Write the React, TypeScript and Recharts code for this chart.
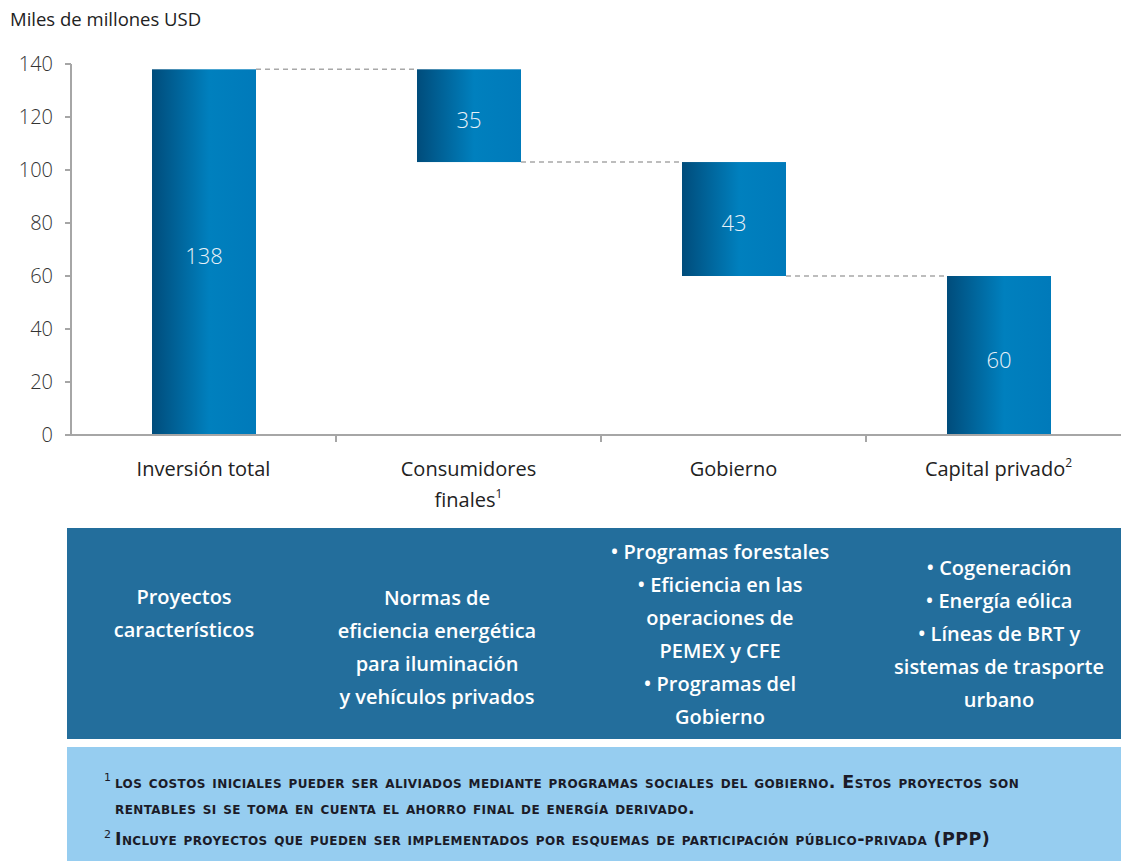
import React from "react";
import { BarChart, Bar, XAxis, YAxis, LabelList } from "recharts";

const categories = ["Inversión total", "Consumidores finales", "Gobierno", "Capital privado"];
const baseValues = [0, 103, 60, 0];
const barValues = [138, 35, 43, 60];
const categoryLines = [["Inversión total"], ["Consumidores", "finales"], ["Gobierno"], ["Capital privado"]];
const categoryNotes = ["", "1", "", "2"];
const yTicks = [0, 20, 40, 60, 80, 100, 120, 140];

const panelColumns = [
  { center: 184, top: 580, lines: ["Proyectos", "característicos"] },
  { center: 437, top: 581, lines: ["Normas de", "eficiencia energética", "para iluminación", "y vehículos privados"] },
  {
    center: 720,
    top: 535,
    lines: ["• Programas forestales", "• Eficiencia en las", "operaciones de", "PEMEX y CFE", "• Programas del", "Gobierno"],
  },
  {
    center: 999,
    top: 551,
    lines: ["• Cogeneración", "• Energía eólica", "• Líneas de BRT y", "sistemas de trasporte", "urbano"],
  },
];

const footnotes = [
  {
    mark: "1",
    lines: [
      "los costos iniciales pueder ser aliviados mediante programas sociales del gobierno. Estos proyectos son",
      "rentables si se toma en cuenta el ahorro final de energía derivado.",
    ],
  },
  { mark: "2", lines: ["Incluye proyectos que pueden ser implementados por esquemas de participación público-privada (PPP)"] },
];

const data = categories.map((name, i) => ({ name, base: baseValues[i], value: barValues[i] }));

// layout
const CHART_W = 1140;
const CHART_H = 520;
const MARGIN = { top: 64, right: 9, left: 0, bottom: 0 };
const Y_AXIS_W = 71;
const BAND = (CHART_W - MARGIN.left - MARGIN.right - Y_AXIS_W) / categories.length;
const FONT = "'Open Sans', 'Noto Sans', sans-serif";

const WaterfallBar = (props: any) => {
  const { x, y, width, height, index } = props;
  let lineY: number | null = null;
  if (index < categories.length - 1) {
    const nextTop = baseValues[index + 1] + barValues[index + 1];
    if (nextTop === baseValues[index] + barValues[index]) lineY = y;
    else if (nextTop === baseValues[index]) lineY = y + height;
  }
  return (
    <g>
      <rect x={x} y={y} width={width} height={height} fill="url(#barGrad)" />
      {lineY !== null && (
        <line
          x1={x + width}
          x2={x + BAND - 2}
          y1={lineY}
          y2={lineY}
          stroke="#a8a8a8"
          strokeWidth={1.5}
          strokeDasharray="5 4"
        />
      )}
    </g>
  );
};

const CategoryTick = (props: any) => {
  const { x, y, payload, index } = props;
  const half = payload && payload.offset ? payload.offset : BAND / 2;
  const i = categories.indexOf(payload.value);
  const lines = categoryLines[i] || [payload.value];
  return (
    <g>
      {index < categories.length - 1 && (
        <line x1={x + half} x2={x + half} y1={y} y2={y + 7} stroke="#a6a6a6" strokeWidth={2} />
      )}
      <text x={x} y={y + 41} textAnchor="middle" fill="#222" fontSize={20} fontFamily={FONT}>
        {lines.map((ln, k) => (
          <tspan key={k} x={x} dy={k === 0 ? 0 : 31}>
            {ln}
            {k === lines.length - 1 && categoryNotes[i] ? (
              <tspan dy={-9} fontSize={12}>
                {categoryNotes[i]}
              </tspan>
            ) : null}
          </tspan>
        ))}
      </text>
    </g>
  );
};

const ValueLabel = (props: any) => {
  const { x, y, width, height, value } = props;
  return (
    <text
      x={x + width / 2}
      y={y + height / 2 + 3}
      textAnchor="middle"
      dominantBaseline="central"
      fill="#e8f1f8"
      fontSize={22}
      fontWeight={300}
      fontFamily={FONT}
    >
      {value}
    </text>
  );
};

export default function App() {
  return (
    <div
      style={{
        position: "absolute",
        left: 0,
        top: 0,
        width: 1121,
        height: 861,
        overflow: "hidden",
        background: "#fff",
        fontFamily: FONT,
      }}
    >
      <div style={{ position: "absolute", left: 10, top: 6, fontSize: 18.5, color: "#222" }}>Miles de millones USD</div>
      <div style={{ position: "absolute", left: 0, top: 0 }}>
        <BarChart width={CHART_W} height={CHART_H} data={data} margin={MARGIN} barSize={104}>
          <defs>
            <linearGradient id="barGrad" x1="0" y1="0" x2="1" y2="0">
              <stop offset="0%" stopColor="#004c7b" />
              <stop offset="55%" stopColor="#0080be" />
              <stop offset="100%" stopColor="#007aba" />
            </linearGradient>
          </defs>
          <XAxis
            dataKey="name"
            interval={0}
            axisLine={{ stroke: "#a6a6a6", strokeWidth: 2 }}
            tickLine={false}
            tickSize={0}
            tickMargin={0}
            height={CHART_H - MARGIN.top - 371}
            tick={<CategoryTick />}
          />
          <YAxis
            width={Y_AXIS_W}
            domain={[0, 140]}
            ticks={yTicks}
            interval={0}
            axisLine={{ stroke: "#a6a6a6", strokeWidth: 2 }}
            tickLine={{ stroke: "#a6a6a6", strokeWidth: 2 }}
            tickSize={6}
            tickMargin={12}
            tick={{ fill: "#333", fontSize: 20, fontWeight: 300, fontFamily: FONT }}
          />
          <Bar dataKey="base" stackId="w" fill="transparent" isAnimationActive={false} />
          <Bar dataKey="value" stackId="w" shape={<WaterfallBar />} isAnimationActive={false}>
            <LabelList dataKey="value" content={<ValueLabel />} />
          </Bar>
        </BarChart>
      </div>

      <div style={{ position: "absolute", left: 67, top: 528, width: 1054, height: 211, background: "#236e9c" }} />
      {panelColumns.map((col, i) => (
        <div
          key={i}
          style={{
            position: "absolute",
            left: col.center - 150,
            width: 300,
            top: col.top,
            textAlign: "center",
            color: "#fff",
            fontSize: 20,
            fontWeight: 600,
            lineHeight: "33px",
          }}
        >
          {col.lines.map((ln, k) => (
            <div key={k}>{ln}</div>
          ))}
        </div>
      ))}

      <div style={{ position: "absolute", left: 67, top: 747, width: 1054, height: 114, background: "#96cdf0" }} />
      <div
        style={{
          position: "absolute",
          left: 104,
          top: 765,
          color: "#1b1b28",
          fontFamily: "'DejaVu Sans', sans-serif",
          fontSize: 17.5,
          fontWeight: 700,
          fontVariant: "small-caps",
          letterSpacing: 0.4,
          lineHeight: "26.5px",
          whiteSpace: "nowrap",
        }}
      >
        {footnotes.map((fn, i) =>
          fn.lines.map((ln, k) => (
            <div key={`${i}-${k}`} style={{ paddingLeft: k === 0 ? 0 : 11 }}>
              {k === 0 && (
                <sup
                  style={{ fontSize: 11, fontWeight: 400, fontVariant: "normal", letterSpacing: 0, marginRight: 4 }}
                >
                  {fn.mark}
                </sup>
              )}
              {ln}
            </div>
          ))
        )}
      </div>
    </div>
  );
}
